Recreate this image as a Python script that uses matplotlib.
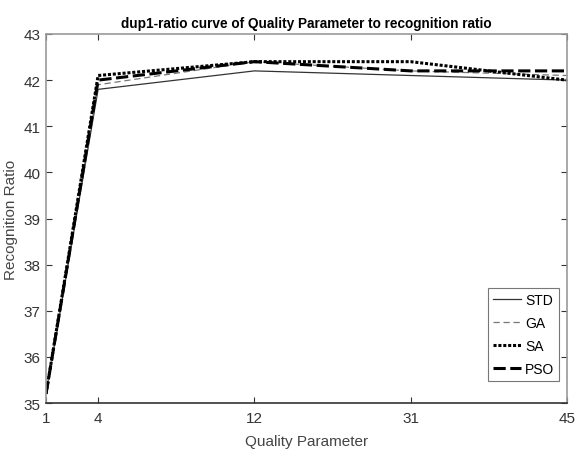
import numpy as np
import matplotlib
matplotlib.use('Agg')
import matplotlib.pyplot as plt

plt.rcParams['font.family'] = ['Liberation Sans Narrow', 'Liberation Sans', 'DejaVu Sans']

# quality parameter values and recognition ratio per method
quality = ['1', '4', '12', '31', '45']
std = [35.2, 41.8, 42.2, 42.1, 42.0]
ga = [35.2, 41.9, 42.4, 42.2, 42.1]
sa = [35.2, 42.1, 42.4, 42.4, 42.0]
pso = [35.2, 42.0, 42.4, 42.2, 42.2]

# uneven spacing of the quality axis
xpos = [1, 4, 13, 22, 31]

fig = plt.figure(figsize=(5.79, 4.52), dpi=100)
ax = fig.add_axes([0.0795, 0.106, 0.8995, 0.8166])

ax.plot(xpos, std, '-', color='#333333', lw=0.9, label='STD')
ax.plot(xpos, ga, '--', color='#777777', lw=0.9, dashes=(5, 3), label='GA')
ax.plot(xpos, sa, ':', color='black', lw=2.2, dashes=(1, 0.6), label='SA')
ax.plot(xpos, pso, '--', color='black', lw=2.2, dashes=(4, 1.5), label='PSO')

ax.set_xlim(1, 31)
ax.set_ylim(35, 43)
ax.set_xticks(xpos)
ax.set_xticklabels(quality)
ax.set_yticks(np.arange(35, 44, 1))
ax.tick_params(direction='in', length=4, labelsize=11, colors='#333333',
               top=True, right=True)
ax.tick_params(axis='x', pad=6)
ax.tick_params(axis='y', pad=4)
for s in ['left', 'right', 'top']:
    ax.spines[s].set_color('#999999')
ax.spines['bottom'].set_color('#333333')
for s in ax.spines.values():
    s.set_linewidth(1.2)

ax.set_title('dup1-ratio curve of Quality Parameter to recognition ratio',
             fontsize=9.8, fontweight='bold', pad=5)
ax.set_xlabel('Quality Parameter', fontsize=11, color='#444444')
ax.set_ylabel('Recognition Ratio', fontsize=11, color='#444444')
ax.xaxis.set_label_coords(0.5, -0.083)
ax.yaxis.set_label_coords(-0.054, 0.5)

leg = ax.legend(loc='lower right', bbox_to_anchor=(0.985, 0.06), fontsize=10,
                frameon=True, fancybox=False, handlelength=2.0,
                handletextpad=0.3, borderpad=0.35, labelspacing=0.65,
                borderaxespad=0)
leg.get_frame().set_edgecolor('#555555')
leg.get_frame().set_linewidth(0.8)

fig.savefig('out.png', dpi=100)
